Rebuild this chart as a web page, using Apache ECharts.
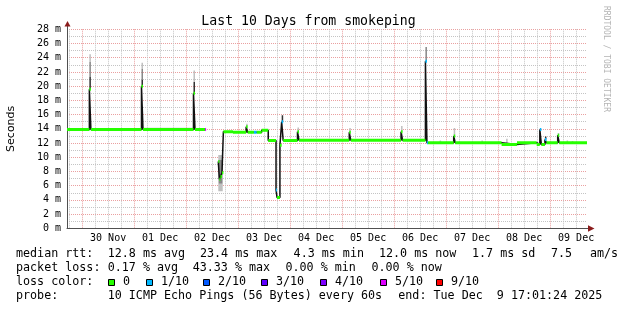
<!DOCTYPE html>
<html><head><meta charset="utf-8">
<script src="https://cdn.jsdelivr.net/npm/echarts@6/dist/echarts.min.js"></script>
<style>html,body{margin:0;padding:0;background:#fff}#c{width:617px;height:310px}</style>
</head><body><div id="c"></div><script>
// time in hours since 29 Nov 00:00
const T_START = 17.0233, T_END = 257.0233;
const dayLabels = ['30 Nov','01 Dec','02 Dec','03 Dec','04 Dec','05 Dec','06 Dec','07 Dec','08 Dec','09 Dec'];
const yTicks = [0,2,4,6,8,10,12,14,16,18,20,22,24,26,28];

// median rtt (ms): segment start time, value, loss level
const medT = [17.02,27.35,28.05,51.4,52.1,75.4,76.1,80.75,81.2,86.85,87.35,87.85,88.55,89.2,93.6,99.7,100.4,103.3,104.6,106.9,109.9,113.5,113.95,115.3,116.1,116.8,123.4,124.1,147.3,148.0,171.2,171.9,182.45,183.15,183.65,195.5,196.2,217.6,224.7,233.8,235.25,235.95,237.6,238.3,243.5,244.2];
const medV = [13.9,19.55,13.9,20.0,13.9,19.0,13.9,13.9,null,9.4,6.9,7.3,7.8,13.6,13.5,14.3,13.5,13.5,13.5,13.8,12.35,5.4,4.35,11.7,15.0,12.35,13.6,12.4,13.5,12.4,13.6,12.4,23.5,12.05,12.05,13.0,12.05,11.8,12.05,11.8,13.9,11.8,12.5,12.05,13.1,12.05];
const medLoss = [0,0,0,0,0,0,0,5,0,0,0,0,0,0,0,0,0,1,0,0,0,1,0,0,1,0,0,0,0,0,0,0,1,1,0,0,0,0,0,0,1,0,1,0,0,0];

// smoke (ping spread): start, end, low, high, density (0 light .. 2 dark)
const smokeT0 = [27.35,27.35,27.35,51.4,51.4,51.4,75.4,75.4,52.1,86.85,87.1,99.7,116.1,123.4,147.3,171.2,182.45,189.0,195.5,208.3,219.7,237.6,243.5,247.6,250.0];
const smokeT1 = [28.05,28.05,28.05,52.1,52.1,52.1,76.1,76.1,75.4,88.9,88.7,100.4,116.8,124.1,148.0,171.9,183.15,189.5,196.2,208.8,220.3,238.3,244.2,248.1,250.5];
const smokeLo = [23.4,21.3,19.55,22.4,20.9,20.0,20.6,19.0,13.9,5.2,6.3,14.3,15.0,13.6,13.5,13.6,23.5,12.05,13.0,12.05,11.8,12.5,13.1,12.05,12.05];
const smokeHi = [24.5,23.4,21.3,23.3,22.4,20.9,22.2,20.6,14.15,10.3,9.6,14.7,15.9,14.2,14.1,14.4,25.5,12.35,14.1,12.35,12.6,12.9,13.4,12.35,12.3];
const smokeLvl = [0,1,2,0,1,2,0,2,0,0,1,0,2,0,0,0,1,0,0,0,0,2,0,0,0];

const lossKeys = ['0','1/10','2/10','3/10','4/10','5/10','9/10'];
const lossLevels = [0,1,2,3,4,5,9];
const lossColors = ['#26ff00','#00b8ff','#0059ff','#5e00ff','#7e00ff','#dd00ff','#ff0000'];
const smokeColors = ['#c0c0c0','#888888','#333333'];

function lossColor(l){ return lossColors[lossLevels.indexOf(l)]; }

// build data
const stepData = [];
const segData = [];
for (let i = 0; i < medT.length; i++) {
  const v = medV[i];
  const tNext = i + 1 < medT.length ? medT[i+1] : T_END;
  if (v === null) { stepData.push([medT[i], '-']); continue; }
  stepData.push([medT[i], v]);
  if (i + 1 >= medT.length || medV[i+1] === null) stepData.push([tNext, v]);
  segData.push([medT[i], tNext, v, medLoss[i]]);
}
const smokeData = smokeT0.map((t,i)=>[t, smokeT1[i], smokeLo[i], smokeHi[i], smokeLvl[i]])
  .sort((a,b)=>a[4]-b[4]);

const MONO = 'DejaVu Sans Mono';
const gridGray = '#c4c4c4', gridRed = '#eaa0a0';
const axisCol = '#505050', arrowCol = '#8b1c1c';

const chart = echarts.init(document.getElementById('c'), null, {renderer:'canvas'});

const gridTop = 29.3, gridBottom = 81.7, pxPerH = 520/240;
const g2Left = 67 + (18 - T_START) * pxPerH;

const legendFont = '11.7px "DejaVu Sans Mono"';
function txt(x, y, s, extra) {
  return Object.assign({ type:'text', x:x, y:y, silent:true,
    style:{ text:s, font:legendFont, fill:'#000', verticalAlign:'middle', textVerticalAlign:'middle' } }, extra||{});
}
const rowY = [254.2, 268.2, 282.2, 296.2];
const graphics = [
  { type:'line', shape:{x1:67.5, y1:29.3, x2:67.5, y2:25}, style:{stroke:axisCol, lineWidth:1} },
  { type:'polygon', shape:{points:[[64.5,26.5],[70.5,26.5],[67.5,21]]}, style:{fill:arrowCol} },
  { type:'line', shape:{x1:587, y1:228.5, x2:589, y2:228.5}, style:{stroke:axisCol, lineWidth:1} },
  { type:'polygon', shape:{points:[[588,225.3],[588,231.7],[594.5,228.5]]}, style:{fill:arrowCol} },
  { type:'text', x:606, y:59, rotation:-Math.PI/2, silent:true,
    style:{ text:'RRDTOOL / TOBI OETIKER', font:'8px "DejaVu Sans Mono"', fill:'#b4b4b4', align:'center', textAlign:'center', verticalAlign:'middle', textVerticalAlign:'middle' } },
  txt(16, rowY[0], 'median rtt:'),
  txt(107.7, rowY[0], '12.8 ms avg'),
  txt(200, rowY[0], '23.4 ms max'),
  txt(293.6, rowY[0], '4.3 ms min'),
  txt(379, rowY[0], '12.0 ms now'),
  txt(472, rowY[0], '1.7 ms sd'),
  txt(551, rowY[0], '7.5'),
  txt(590, rowY[0], 'am/s'),
  txt(16, rowY[1], 'packet loss:'),
  txt(107.7, rowY[1], '0.17 % avg'),
  txt(192.7, rowY[1], '43.33 % max'),
  txt(285.5, rowY[1], '0.00 % min'),
  txt(371.5, rowY[1], '0.00 % now'),
  txt(16, rowY[2], 'loss color:'),
  txt(16, rowY[3], 'probe:'),
  txt(107.7, rowY[3], '10 ICMP Echo Pings (56 Bytes) every 60s'),
  txt(398.3, rowY[3], 'end: Tue Dec  9 17:01:24 2025')
];
const sqX = [108, 146, 203, 261, 320, 380, 436];
lossKeys.forEach((k,i)=>{
  graphics.push({ type:'rect', shape:{x:sqX[i]+0.5, y:279.5, width:6, height:6}, style:{fill:lossColors[i], stroke:'#000', lineWidth:1} });
  graphics.push(txt(sqX[i]+15, rowY[2], k));
});

const option = {
  animation:false,
  backgroundColor:'#ffffff',
  title:{ text:'Last 10 Days from smokeping', left:'center', top:10,
    textStyle:{ fontFamily:MONO, fontSize:13.2, fontWeight:'normal', color:'#000' } },
  grid:[
    { left:67, right:30, top:gridTop, bottom:gridBottom, containLabel:false, outerBoundsMode:'none' },
    { left:g2Left, width:234*pxPerH, top:gridTop, bottom:gridBottom, containLabel:false, outerBoundsMode:'none' }
  ],
  xAxis:[
    { type:'value', gridIndex:0, min:T_START, max:T_END,
      axisLine:{show:true, onZero:false, lineStyle:{color:axisCol, width:1}},
      axisTick:{show:false}, axisLabel:{show:false}, splitLine:{show:false} },
    { type:'value', gridIndex:1, min:18, max:252, interval:6,
      axisLine:{show:false}, axisTick:{show:false},
      axisLabel:{ fontFamily:MONO, fontSize:10, color:'#000', margin:5,
        formatter:(v)=>{ const k=(v-36)/24; const r=Math.round(k);
          return (Math.abs(k-r)<1e-6 && r>=0 && r<dayLabels.length) ? dayLabels[r] : ''; } },
      splitLine:{ show:true, lineStyle:{ color:[gridGray, gridRed, gridGray, gridGray], type:[1,1], width:1 } } }
  ],
  yAxis:[
    { type:'value', gridIndex:0, min:yTicks[0], max:yTicks[yTicks.length-1], interval:2,
      axisLine:{show:true, onZero:false, lineStyle:{color:axisCol, width:1}},
      axisTick:{show:false},
      axisLabel:{ fontFamily:MONO, fontSize:10, color:'#000', margin:6, formatter:(v)=>v+' m' },
      splitLine:{ show:true, lineStyle:{ color:gridRed, type:[1,1], width:1 } },
      minorTick:{ show:false, splitNumber:2 },
      minorSplitLine:{ show:true, lineStyle:{ color:gridGray, type:[1,1], width:1 } },
      name:'Seconds', nameLocation:'middle', nameGap:50, nameRotate:90,
      nameTextStyle:{ fontFamily:'DejaVu Sans', fontSize:11, color:'#000' } },
    { type:'value', gridIndex:1, min:0, max:28, show:false }
  ],
  series:[
    { type:'custom', xAxisIndex:0, yAxisIndex:0, z:2, clip:true,
      data:smokeData, encode:{x:[0,1], y:[2,3]},
      renderItem:(params, api)=>{
        const p0 = api.coord([api.value(0), api.value(3)]);
        const p1 = api.coord([api.value(1), api.value(2)]);
        return { type:'rect', shape:{ x:p0[0], y:p0[1], width:Math.max(p1[0]-p0[0],1.5), height:p1[1]-p0[1] },
          style:{ fill:smokeColors[api.value(4)] } };
      } },
    { type:'line', xAxisIndex:0, yAxisIndex:0, z:3, step:'end', showSymbol:false, symbol:'none',
      connectNulls:false, data:stepData, lineStyle:{ color:'#111111', width:1.5 } },
    { type:'custom', xAxisIndex:0, yAxisIndex:0, z:4, clip:true,
      data:segData, encode:{x:[0,1], y:2},
      renderItem:(params, api)=>{
        const p0 = api.coord([api.value(0), api.value(2)]);
        const p1 = api.coord([api.value(1), api.value(2)]);
        return { type:'line', shape:{ x1:p0[0], y1:p0[1], x2:Math.max(p1[0], p0[0]+1), y2:p1[1] },
          style:{ stroke:lossColor(api.value(3)), lineWidth:3, lineCap:'butt' } };
      } }
  ],
  graphic:graphics
};
chart.setOption(option);
</script></body></html>
